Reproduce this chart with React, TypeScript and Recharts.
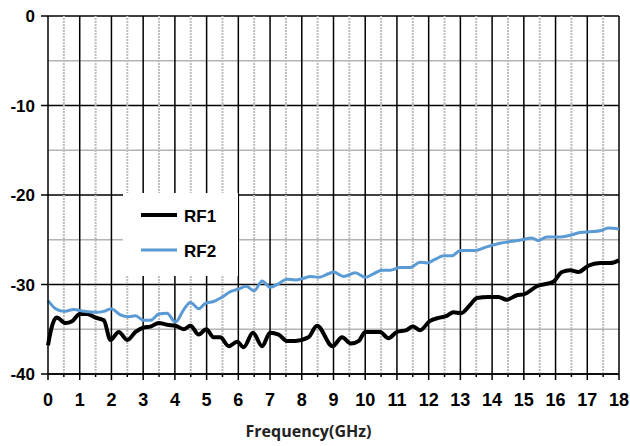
import { LineChart, Line, XAxis, YAxis, CartesianGrid, ReferenceLine, Legend } from "recharts"

// RF1 (black) – frequency in GHz, level in dB
const rf1Freq = [0, 0.1, 0.27, 0.55, 0.76, 1.0, 1.23, 1.5, 1.76, 1.97, 2.23, 2.5, 2.76, 3.02, 3.23, 3.49, 3.75, 4.02, 4.28, 4.49, 4.75, 4.99, 5.22, 5.43, 5.7, 5.96, 6.17, 6.46, 6.75, 7.0, 7.27, 7.53, 7.8, 8.21, 8.48, 8.97, 9.27, 9.55, 9.8, 10.0, 10.47, 10.73, 11.0, 11.3, 11.5, 11.73, 12.03, 12.35, 12.57, 12.78, 13.02, 13.3, 13.52, 13.88, 14.2, 14.46, 14.78, 15.0, 15.41, 15.93, 16.2, 16.46, 16.72, 17.03, 17.4, 17.72, 18.0]
const rf1Loss = [-36.8, -35.0, -33.7, -34.3, -34.1, -33.3, -33.3, -33.7, -34.0, -36.2, -35.3, -36.2, -35.3, -34.8, -34.7, -34.3, -34.5, -34.6, -35.0, -34.6, -35.6, -35.0, -35.9, -35.9, -36.9, -36.4, -37.0, -35.4, -36.9, -35.4, -35.6, -36.3, -36.3, -35.9, -34.6, -36.9, -35.9, -36.6, -36.3, -35.3, -35.3, -36.0, -35.3, -35.1, -34.7, -35.1, -34.1, -33.7, -33.5, -33.1, -33.2, -32.3, -31.5, -31.4, -31.4, -31.7, -31.2, -31.1, -30.2, -29.7, -28.6, -28.4, -28.6, -27.9, -27.6, -27.6, -27.3]

// RF2 (blue)
const rf2Freq = [0, 0.24, 0.5, 0.81, 1.13, 1.5, 1.76, 1.99, 2.28, 2.55, 2.76, 3.02, 3.23, 3.49, 3.75, 4.02, 4.28, 4.49, 4.75, 4.96, 5.22, 5.49, 5.75, 6.01, 6.25, 6.5, 6.75, 7.0, 7.27, 7.53, 7.8, 8.06, 8.27, 8.53, 8.84, 9.0, 9.32, 9.69, 10.0, 10.26, 10.53, 10.79, 11.1, 11.42, 11.73, 11.94, 12.2, 12.47, 12.73, 13.0, 13.46, 13.83, 14.25, 14.57, 14.94, 15.25, 15.46, 15.72, 16.09, 16.46, 16.77, 17.09, 17.4, 17.66, 18.0]
const rf2Loss = [-31.8, -32.7, -33.0, -32.8, -33.0, -33.1, -33.0, -32.7, -33.4, -33.6, -33.5, -34.0, -34.0, -33.3, -33.2, -34.2, -32.8, -32.0, -32.7, -32.1, -31.9, -31.4, -30.8, -30.5, -30.2, -30.7, -29.6, -30.3, -29.9, -29.4, -29.5, -29.3, -29.1, -29.2, -28.8, -28.6, -29.1, -28.7, -29.2, -28.8, -28.4, -28.4, -28.1, -28.1, -27.5, -27.6, -27.2, -26.8, -26.8, -26.2, -26.2, -25.8, -25.4, -25.2, -25.0, -24.8, -25.1, -24.7, -24.7, -24.5, -24.2, -24.1, -24.0, -23.7, -23.8]

const freqTicks = [0, 0.5, 1, 1.5, 2, 2.5, 3, 3.5, 4, 4.5, 5, 5.5, 6, 6.5, 7, 7.5, 8, 8.5, 9, 9.5, 10, 10.5, 11, 11.5, 12, 12.5, 13, 13.5, 14, 14.5, 15, 15.5, 16, 16.5, 17, 17.5, 18]
const majorFreq = [1, 2, 3, 4, 5, 6, 7, 8, 9, 10, 11, 12, 13, 14, 15, 16, 17, 18]
const minorFreq = [0.5, 1.5, 2.5, 3.5, 4.5, 5.5, 6.5, 7.5, 8.5, 9.5, 10.5, 11.5, 12.5, 13.5, 14.5, 15.5, 16.5, 17.5]
const levelTicks = [0, -10, -20, -30, -40]
const minorLevel = [-5, -15, -25, -35]

const rf1Data = rf1Freq.map((f, i) => ({ freq: f, loss: rf1Loss[i] }))
const rf2Data = rf2Freq.map((f, i) => ({ freq: f, loss: rf2Loss[i] }))

const TICK_SIZE = 6
const TICK_MARGIN = 13
const tickFont = { fontFamily: "'Liberation Sans', Arial, sans-serif", fontWeight: 700, fontSize: 17, fill: "#000" }

const FreqTick = (props: any) => {
  const { x, y, payload } = props
  const major = Number.isInteger(payload.value)
  const axisY = y - TICK_SIZE - TICK_MARGIN
  return (
    <g>
      <line x1={x} x2={x} y1={axisY} y2={axisY + (major ? TICK_SIZE : 3)} stroke="#000" strokeWidth={1.5} />
      {major && (
        <text x={x} y={y} dy="0.71em" textAnchor="middle" {...tickFont} fontSize={18}>
          {payload.value}
        </text>
      )}
    </g>
  )
}

const LegendBox = (props: any) => {
  const items = props.payload || []
  return (
    <svg width={115} height={83} style={{ display: "block" }}>
      <rect x={0} y={0} width={115} height={83} fill="#fff" />
      {items.map((it: any, i: number) => {
        const cy = 22 + i * 35
        return (
          <g key={it.value}>
            <line x1={18} x2={54} y1={cy} y2={cy} stroke={it.color} strokeWidth={i === 0 ? 4 : 3} />
            <text x={61} y={cy + 7} {...tickFont} fontSize={17}>
              {it.value}
            </text>
          </g>
        )
      })}
    </svg>
  )
}

export default function App() {
  return (
    <div style={{ position: "absolute", left: 0, top: 0, width: 630, height: 446, background: "#fff" }}>
      <LineChart width={630} height={446} margin={{ top: 16, right: 11, bottom: 0, left: 0 }}>
        <CartesianGrid vertical={false} stroke="#000" strokeWidth={1.5} />
        {minorLevel.map((v) => (
          <ReferenceLine key={"h" + v} y={v} stroke="#b4b4b4" strokeWidth={1.5} />
        ))}
        {minorFreq.map((v) => (
          <ReferenceLine key={"m" + v} x={v} stroke="#bdbdbd" strokeWidth={2} strokeDasharray="2 1" />
        ))}
        {majorFreq.map((v) => (
          <ReferenceLine key={"v" + v} x={v} stroke="#000" strokeWidth={1.5} />
        ))}
        <XAxis
          dataKey="freq"
          type="number"
          domain={[0, 18]}
          ticks={freqTicks}
          interval={0}
          allowDuplicatedCategory={false}
          height={72}
          tickSize={TICK_SIZE}
          tickMargin={TICK_MARGIN}
          tickLine={false}
          axisLine={{ stroke: "#000", strokeWidth: 1.5 }}
          tick={<FreqTick />}
          label={{
            value: "Frequency(GHz)",
            position: "insideBottom",
            offset: 9,
            dx: -25,
            style: { fontFamily: "'Open Sans', Lato, sans-serif", fontWeight: 700, fontSize: 16, fill: "#222" },
          }}
        />
        <YAxis
          type="number"
          domain={[-40, 0]}
          ticks={levelTicks}
          interval={0}
          width={48}
          tickSize={7}
          tickMargin={6}
          tickLine={{ stroke: "#000", strokeWidth: 1.5 }}
          axisLine={{ stroke: "#000", strokeWidth: 1.5 }}
          tick={tickFont}
        />
        <Legend
          layout="vertical"
          align="center"
          verticalAlign="middle"
          wrapperStyle={{ left: 123, top: 193, width: 115, height: 83 }}
          content={<LegendBox />}
        />
        <Line
          data={rf1Data}
          dataKey="loss"
          name="RF1"
          type="monotone"
          stroke="#000"
          strokeWidth={4}
          dot={false}
          isAnimationActive={false}
        />
        <Line
          data={rf2Data}
          dataKey="loss"
          name="RF2"
          type="monotone"
          stroke="#5b9bd5"
          strokeWidth={3}
          dot={false}
          isAnimationActive={false}
        />
      </LineChart>
    </div>
  )
}
